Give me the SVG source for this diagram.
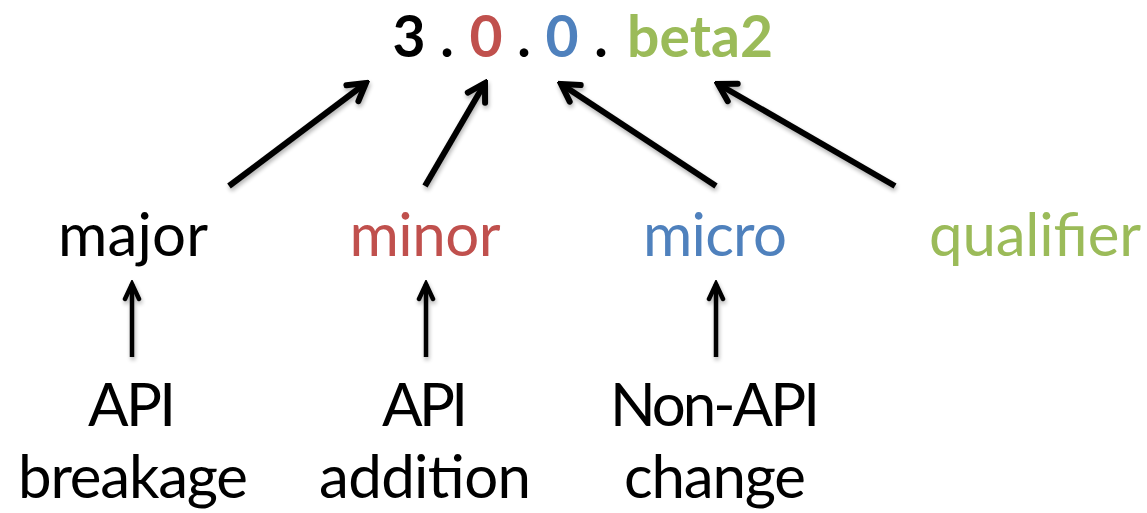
<svg xmlns="http://www.w3.org/2000/svg" width="1147" height="513" viewBox="0 0 1147 513">
<style>
text{font-family:Lato,"Open Sans","Liberation Sans",sans-serif;font-size:60px;text-anchor:middle}
.b{font-weight:bold;font-size:57px}
.k{fill:#000}.r{fill:#C0504D}.u{fill:#4F81BD}.g{fill:#9BBB59}
.big{stroke:#000;stroke-width:6;fill:none;marker-end:url(#ah)}
.sm{stroke:#000;stroke-width:4.5;fill:none;marker-end:url(#ah2)}
</style>
<defs>
<filter id="sh" x="-20%" y="-20%" width="140%" height="140%">
<feGaussianBlur in="SourceAlpha" stdDeviation="2"/>
<feOffset dx="1" dy="3" result="o"/>
<feComponentTransfer><feFuncA type="linear" slope="0.3"/></feComponentTransfer>
<feMerge><feMergeNode/><feMergeNode in="SourceGraphic"/></feMerge>
</filter>
<marker id="ah" markerUnits="userSpaceOnUse" viewBox="-22 -14 26 28" markerWidth="26" markerHeight="28" refX="0" refY="0" orient="auto">
<polyline points="-17,-10 0,0 -17,10" fill="none" stroke="#000" stroke-width="6" stroke-linecap="round" stroke-linejoin="miter"/>
</marker>
<marker id="ah2" markerUnits="userSpaceOnUse" viewBox="-20 -12 24 24" markerWidth="24" markerHeight="24" refX="0" refY="0" orient="auto">
<polyline points="-15,-7 0,0 -15,7" fill="none" stroke="#000" stroke-width="4.5" stroke-linecap="round"/>
</marker>
</defs>
<g id="version">
<text class="b k" x="409" y="57">3</text>
<text class="b k" x="447" y="57">.</text>
<text class="b r" x="486" y="57">0</text>
<text class="b k" x="524" y="57">.</text>
<text class="b u" x="562" y="57">0</text>
<text class="b k" x="601" y="57">.</text>
<text class="b g" x="700" y="57" textLength="146">beta2</text>
</g>
<g id="major"><text class="k" x="133" y="256" textLength="150">major</text></g>
<g id="minor"><text class="r" x="425" y="256" textLength="151">minor</text></g>
<g id="micro"><text class="u" x="715" y="256" textLength="144">micro</text></g>
<g id="qualifier"><text class="g" x="1035" y="256" textLength="212">qualifier</text></g>
<g id="api-breakage"><text class="k" x="132" y="426" textLength="88">API</text><text class="k" x="133" y="498" textLength="230">breakage</text></g>
<g id="api-addition"><text class="k" x="425" y="426" textLength="86">API</text><text class="k" x="425" y="498" textLength="212">addition</text></g>
<g id="non-api-change"><text class="k" x="715" y="426" textLength="210">Non-API</text><text class="k" x="715" y="498" textLength="182">change</text></g>
<g id="connectors" filter="url(#sh)">
<line class="big" x1="229" y1="186" x2="366" y2="83"/>
<line class="big" x1="425" y1="186" x2="485" y2="83"/>
<line class="big" x1="716" y1="186" x2="561" y2="84"/>
<line class="big" x1="895" y1="186" x2="718" y2="84"/>
<line class="sm" x1="132" y1="357" x2="132" y2="284"/>
<line class="sm" x1="426" y1="357" x2="426" y2="284"/>
<line class="sm" x1="716" y1="357" x2="716" y2="284"/>
</g>
</svg>
